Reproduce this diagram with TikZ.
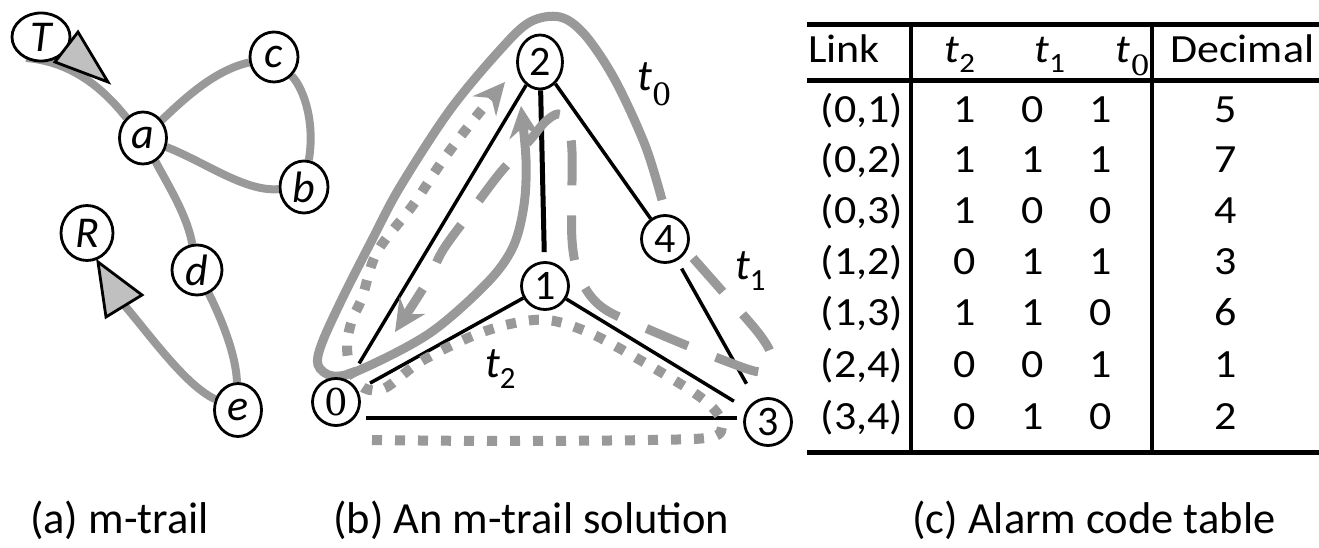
\documentclass[tikz,border=0pt]{standalone}
\usepackage{fontspec}
\usepackage{graphicx}
\usetikzlibrary{arrows.meta,shapes.geometric,backgrounds}
\newfontfamily\calfont{Carlito}
\newfontfamily\serfont{DejaVu Serif}
\definecolor{trailgray}{RGB}{153,153,153}
\definecolor{tipgray}{RGB}{192,192,192}
\newcommand{\nodeAfont}{\fontsize{44}{48}\selectfont\calfont\itshape}
\newcommand{\nodeBfont}{\fontsize{42}{46}\selectfont\calfont}
\newcommand{\nodeZfont}{\fontsize{37}{42}\selectfont\serfont}
\newcommand{\capfont}{\fontsize{44.5}{48}\selectfont\calfont}
\newcommand{\tabfont}{\fontsize{40}{44}\selectfont\calfont}
\newcommand{\lblfont}{\fontsize{44}{48}\selectfont\calfont}
\newcommand{\tb}[1]{\scalebox{1.1}[1]{#1}}
\newcommand{\trow}[7]{%
  \node[tcell] (lk#1) at (862,#2) {\tb{#3}};
  \node[tcell] (ca#1) at (965,#2) {\tb{#4}};
  \node[tcell] (cb#1) at (1033,#2) {\tb{#5}};
  \node[tcell] (cc#1) at (1101,#2) {\tb{#6}};
  \node[tcell] (dc#1) at (1226,#2) {\tb{#7}};}
\begin{document}
\begin{tikzpicture}[x=1pt,y=-1pt,
  trail/.style={draw=trailgray, line width=8pt},
  anode/.style={ellipse, draw, line width=2.8pt, fill=white, inner sep=0pt, font=\nodeAfont},
  bnode/.style={circle, draw, line width=2.8pt, fill=white, inner sep=0pt, minimum size=47pt, font=\nodeBfont},
  bedge/.style={draw, line width=3.5pt},
  tzero/.style={draw=trailgray, line width=9pt},
  tone/.style={draw=trailgray, line width=9pt, dash pattern=on 45pt off 30pt},
  ttwo/.style={draw=trailgray, line width=10pt, dash pattern=on 10pt off 13pt},
  tiptr/.style={-{Stealth[length=32pt,width=31pt,inset=11pt,line width=0pt,fill=trailgray]}},
  tritip/.style={fill=tipgray, draw=black, line width=2.8pt, line join=miter},
  tcell/.style={anchor=base, font=\tabfont, inner sep=0pt},
  caption/.style={anchor=base west, font=\capfont, inner sep=0pt},
  lbl/.style={anchor=base west, font=\lblfont, inner sep=0pt}]
\useasboundingbox (0,0) rectangle (1319,548);

% ---------- (a) ----------
\node[anode, minimum width=58pt, minimum height=48pt] (T) at (41,37) {T};
\node[anode, minimum width=47pt, minimum height=52pt] (a) at (143,138) {a};
\node[anode, minimum width=48pt, minimum height=50pt] (c) at (274,57) {c};
\node[anode, minimum width=48pt, minimum height=52pt] (b) at (304,187) {b};
\node[anode, minimum width=52pt, minimum height=55pt] (R) at (87,233) {R};
\node[anode, minimum width=50pt, minimum height=50pt] (d) at (197,270) {d};
\node[anode, minimum width=47pt, minimum height=53pt] (e) at (238,410) {e};
\coordinate (tend) at (26,58);
\coordinate (rend) at (120,300);

\begin{scope}[on background layer]
  \draw[trail] (a) .. controls (112,100) and (80,62) .. (tend);
  \draw[trail] (a) .. controls (185,98) and (215,70) .. (c);
  \draw[trail] (a) .. controls (205,162) and (245,192) .. (b);
  \draw[trail] (c) .. controls (305,90) and (315,125) .. (b);
  \draw[trail] (a) .. controls (168,185) and (187,215) .. (d);
  \draw[trail] (d) .. controls (222,320) and (236,355) .. (e);
  \draw[trail] (e) .. controls (185,385) and (150,335) .. (rend);
\end{scope}
\filldraw[tritip] (55,62) -- (78,32) -- (108,82) -- cycle;
\filldraw[tritip] (98,262) -- (142,295) -- (106,317) -- cycle;

% ---------- (b) ----------
\node[bnode, shape=ellipse, minimum width=45pt, minimum height=54pt] (n2) at (540,62) {2};
\node[bnode] (n4) at (665,239) {4};
\node[bnode] (n1) at (545,286) {1};
\node[bnode, font=\nodeZfont] (n0) at (336,402) {0};
\node[bnode] (n3) at (768,422) {3};

\begin{scope}[on background layer]
  \draw[bedge, shorten >=20pt] (n2) -- (n0);
  \draw[bedge, line width=5pt, shorten >=9pt] (n2) -- (n1);
  \draw[bedge] (n2) -- (n4);
  \draw[bedge, shorten >=14pt] (n1) -- (n0);
  \draw[bedge, shorten >=15pt] (n1) -- (n3);
  \draw[bedge, shorten <=9pt, shorten >=19pt] (n4) -- (n3);
  \draw[bedge, line width=4pt] ([xshift=5.5pt,yshift=-16pt]n0.east) -- ([xshift=-6.5pt,yshift=4pt]n3.west);
  % t0
  \draw[tzero, tiptr] plot[smooth, tension=0.55] coordinates {
    (662,200) (645,145) (615,80) (585,35) (560,17) (530,22) (500,50) (450,110)
    (400,187) (372,240) (343,297) (322,343) (318,365) (333,376) (362,369)
    (430,333) (487,283) (513,247) (524,205) (526,160) (521,106)};
  % t1
  \draw[tone, tiptr] plot[smooth, tension=0.55] coordinates {
    (693,258) (730,300) (760,335) (771,356) (762,372) (723,360) (650,330)
    (603,308) (581,280) (572,240) (572,152) (567,122) (558,114) (545,122)
    (530,140) (500,173) (470,213) (443,250) (427,282) (395,332)};
  % t2
  \draw[ttwo, tiptr] plot[smooth, tension=0.55] coordinates {
    (372,440) (500,441) (650,440) (712,437) (722,424) (713,408) (690,390)
    (640,360) (590,333) (548,320) (510,324) (470,337) (420,362) (385,388)
    (364,388) (351,370) (347,345) (352,320) (362,298) (377,252) (413,205)
    (443,160) (475,118) (505,82)};
\end{scope}
\node[lbl] (lt0) at (637,91) {{\itshape t}\textsubscript{\serfont 0}};
\node[lbl] (lt1) at (735,279) {{\itshape t}\textsubscript{1}};
\node[lbl] (lt2) at (485,377) {{\itshape t}\textsubscript{2}};

% ---------- (c) ----------
\draw[line width=5pt] (807,25) -- (1319,25);
\draw[line width=5pt] (807,81) -- (1319,81);
\draw[line width=5pt] (807,452) -- (1319,452);
\draw[line width=4.5pt] (911,25) -- (911,452);
\draw[line width=4.5pt] (1152,25) -- (1152,452);
\node[tcell, anchor=base west] (hlink) at (808,63) {\tb{Link}};
\node[tcell] (ht2) at (960,63) {\tb{{\itshape t}\textsubscript{2}}};
\node[tcell] (ht1) at (1050,63) {\tb{{\itshape t}\textsubscript{1}}};
\node[tcell] (ht0) at (1133,63) {\tb{{\itshape t}\textsubscript{\serfont 0}}};
\node[tcell, anchor=base west] (hdec) at (1170,63) {\tb{Decimal}};
\trow{1}{123}{(0,1)}{1}{0}{1}{5}
\trow{2}{173}{(0,2)}{1}{1}{1}{7}
\trow{3}{223}{(0,3)}{1}{0}{0}{4}
\trow{4}{274}{(1,2)}{0}{1}{1}{3}
\trow{5}{325}{(1,3)}{1}{1}{0}{6}
\trow{6}{377}{(2,4)}{0}{0}{1}{1}
\trow{7}{429}{(3,4)}{0}{1}{0}{2}

% ---------- captions ----------
\node[caption] (capa) at (30,533) {(a) m-trail};
\node[caption] (capb) at (333,533) {(b) An m-trail solution};
\node[caption] (capc) at (912,533) {(c) Alarm code table};
\end{tikzpicture}
\end{document}
